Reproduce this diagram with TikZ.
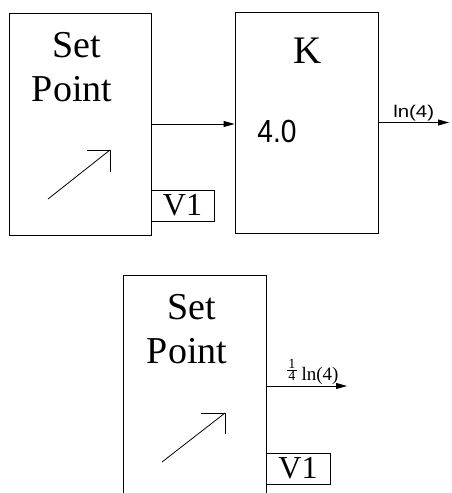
\documentclass[tikz,border=0pt]{standalone}
\usepackage{fontspec}
\setmainfont{Liberation Serif}
\setsansfont{Liberation Sans}
\newfontfamily\widesans[FakeStretch=1.2]{Liberation Sans}
\newfontfamily\narrowsans[FakeStretch=0.88]{Liberation Sans}
\newcommand\quarterfrac{{\fontsize{14}{11}\selectfont\begin{tabular}[b]{@{\kern1.5pt}c@{\kern1.5pt}}1\\[-1.5pt]\hline\rule{0pt}{9.5pt}4\end{tabular}}}
\usetikzlibrary{arrows.meta}
\begin{document}
\begin{tikzpicture}[x=1pt, y=-1pt, line width=0.8pt, >={Triangle[length=11pt,width=6pt]}]
\useasboundingbox (0,0) rectangle (451,493);
% upper row
\node[draw, minimum width=142pt, minimum height=222pt, inner sep=0] (sp) at (80,124) {};
\node[anchor=base, font=\fontsize{38}{44}\selectfont] (set) at (77,57) {Set};
\node[anchor=base, font=\fontsize{38}{44}\selectfont] (pnt) at (72,101) {Point};
\node[draw, minimum width=63pt, minimum height=31pt, inner sep=0, font=\fontsize{32}{36}\selectfont] (v) at (182.5,205.5) {V1};
\draw (48,199) -- (110,150);
\draw (87,150) -- (110,150) -- (110,172);
\node[draw, minimum width=143pt, minimum height=221pt, inner sep=0] (k) at (306.5,122.5) {};
\node[anchor=base, font=\fontsize{39}{44}\selectfont] (kl) at (307.5,63) {K};
\node[anchor=base west, inner sep=0, font=\narrowsans\fontsize{32}{36}\selectfont] (kv) at (257,142) {4.0};
\coordinate (out) at (449,122.5);
\draw[->] (sp.east) -- (sp.east -| k.west);
\draw[->] (k.east) -- node[above, inner sep=1.5pt, font=\widesans\fontsize{17}{20}\selectfont] (ol) {ln(4)} (out);
% lower row
\node[draw, minimum width=143pt, minimum height=222pt, inner sep=0] (sp2) at (194.5,386) {};
\node[anchor=base, font=\fontsize{38}{44}\selectfont] (set2) at (192,319) {Set};
\node[anchor=base, font=\fontsize{38}{44}\selectfont] (pnt2) at (187,363) {Point};
\node[draw, minimum width=64pt, minimum height=31pt, inner sep=0, font=\fontsize{32}{36}\selectfont] (v2) at (298,468.5) {V1};
\draw (162,462) -- (225,413);
\draw (201,413) -- (225,413) -- (225,434);
\coordinate (out2) at (347,386);
\draw[->] (sp2.east) -- node[above, inner sep=1.5pt, xshift=6pt, font=\fontsize{19}{22}\selectfont] (ol2) {\quarterfrac\ ln(4)} (out2);
\end{tikzpicture}
\end{document}
